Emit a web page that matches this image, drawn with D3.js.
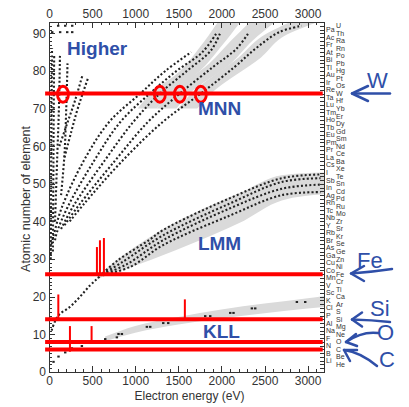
<!DOCTYPE html>
<html>
<head>
<meta charset="utf-8">
<script src="https://cdn.jsdelivr.net/npm/d3@7"></script>
<style>
  body { margin: 0; background: #fff; }
  .axis path, .axis line { stroke: #333; shape-rendering: crispEdges; }
  .axis text { fill: #333; font: 12px "Liberation Sans", Arial, sans-serif; }
  .minor text { display: none; }
</style>
</head>
<body>
<svg id="chart" width="409" height="407"></svg>
<script>
// ---- data (energy in eV, Z = atomic number) ----
var xTicks = [0, 500, 1000, 1500, 2000, 2500, 3000];
var yTicks = [0, 10, 20, 30, 40, 50, 60, 70, 80, 90];

var elements = ["H","He","Li","Be","B","C","N","O","F","Ne","Na","Mg","Al","Si","P","S","Cl","Ar","K","Ca",
  "Sc","Ti","V","Cr","Mn","Fe","Co","Ni","Cu","Zn","Ga","Ge","As","Se","Br","Kr","Rb","Sr","Y","Zr",
  "Nb","Mo","Tc","Ru","Rh","Pd","Ag","Cd","In","Sn","Sb","Te","I","Xe","Cs","Ba","La","Ce","Pr","Nd",
  "Pm","Sm","Eu","Gd","Tb","Dy","Ho","Er","Tm","Yb","Lu","Hf","Ta","W","Re","Os","Ir","Pt","Au","Hg",
  "Tl","Pb","Bi","Po","At","Rn","Fr","Ra","Ac","Th","Pa","U"];

// gray bands: [E, Zlow, Zhigh]
var kllBand = [[650,8.2,9.4],[1000,10.4,12.2],[1500,12.6,14.6],[2000,14.2,16.6],[2500,15.6,18.2],[3000,16.9,19.6],[3190,17.3,20.2]];
var lmmBand = [[560,24.6,25.6],[626,25.4,26.8],[785,26.6,29.7],[1171,29.7,35.9],[1752,35,43],[2200,39.5,47.4],[2700,45.6,52.3],[3190,47.2,53]];
// MNN bands: [Z, Elow, Ehigh]
var mnnBand1 = [[70,1030,1250],[74,1180,1400],[80,1520,1750],[86,1740,1980],[93,1960,2220]];
var mnnBand2 = [[70,1250,1480],[74,1400,1630],[82,1860,2110],[88,2110,2360],[93,2330,2620]];
var mnnBand3 = [[70,1500,1720],[74,1650,1880],[83.6,2200,2460],[90,2530,2790],[93,2800,3120]];

// dotted transition rows: [E, Z]
var kllDots = [[50,2.7],[108,4.1],[186,5.2],[263,6.3],[379,6.9],[495,7.9],[650,8.75],[785,9.2],[804,10.1],[843,10.1],
  [1133,12],[1172,12],[1323,13],[1381,13],[1810,14.85],[1868,14.85],[2100,15.7],[2138,15.7],
  [2351,16.9],[2390,16.9],[2873,18.6],[2970,18.6]];
var lmmLow = [[30,11],[104,14.9],[243,17.3],[360,20],[475,23],[556,24.7],[626,26.3]];
var lmm1 = [[626,26.3],[800,29.7],[1170,35.2],[1322,37.7],[2100,46.2],[2700,51.5],[3150,52.5]];
var lmm2 = [[626,26.1],[850,29.2],[1322,36.3],[2100,44.8],[2700,50.5],[3150,51.5]];
var lmm3 = [[626,25.9],[900,28.6],[1322,35],[2100,43.5],[2700,48.7],[3150,49.8]];
var lmm4 = [[626,25.7],[950,28],[1322,33.7],[2100,41.6],[2700,47],[3150,47.8]];
var mnnA = [[30,34],[50,36],[150,43.8],[400,56],[700,66.5],[1060,74],[1350,80],[1650,85]];
var mnnB = [[70,35],[90,37],[220,44],[520,56],[830,66.5],[1170,74],[1480,80],[1780,85],[1950,90.3]];
var mnnC = [[140,38],[280,44],[640,56],[980,66.5],[1286,74],[1600,80],[1880,85.5],[1990,90.3]];
var mnnD = [[180,39],[336,44],[760,56],[1150,66.5],[1518,74],[1900,81],[2180,86],[2320,90.3]];
var mnnE = [[240,40],[400,44.5],[846,56],[1322,66.5],[1761,74],[2150,81],[2400,86],[2670,90.3],[2930,92]];
var higher0 = [[45,32],[50,50],[55,70],[60,84]];
var higher1 = [[20,30],[25,50],[30,70],[35,86]];
var higher2 = [[70,40],[95,57],[115,70],[127,84]];
var higher3 = [[140,47],[180,58],[200,70],[215,82]];
var higher4 = [[180,57],[260,64],[340,70.5],[456,78.3]];
var higher5 = [[120,60],[210,66],[300,72],[390,79]];
var higherDots = [[35,90.3],[127,90.3],[209,90.3],[267,90.3],[104,92],[186,92],[267,92]];

// red highlights
var redLevels = [74, 26, 14, 8, 6];          // W, Fe, Si, O, C
var redSpan = [-45, 3175];
var barEnergy = [556, 591, 637, 108, 1576, 243, 494];
var barBase   = [26, 26, 26, 14, 14, 5.4, 7.8];
var barTop    = [33.2, 35, 35.6, 20.6, 19.3, 12.2, 12.2];
var circleEnergy = [162, 1286, 1518, 1761];
var circleZ = 73.8;

var seriesLabels = [["Higher", 210, 84.2], ["MNN", 1727, 68.3], ["LMM", 1727, 32.4], ["KLL", 1786, 9]];

// ---- chart ----
var svg = d3.select("#chart"),
    margin = {top: 22, right: 85, bottom: 35, left: 49},
    width = 409 - margin.left - margin.right,
    height = 407 - margin.top - margin.bottom;

var x = d3.scaleLinear().domain([0, 3190]).range([0, width]);
var y = d3.scaleLinear().domain([0, 93]).range([height, 0]);

var g = svg.append("g")
    .attr("transform", "translate(" + margin.left + "," + margin.top + ")");

g.append("clipPath").attr("id", "clip")
  .append("rect").attr("width", width).attr("height", height);

var plot = g.append("g").attr("clip-path", "url(#clip)");

var bandColor = "#dadada";
var areaE = d3.area().curve(d3.curveMonotoneX)
    .x(function (d) { return x(d[0]); })
    .y0(function (d) { return y(d[1]); })
    .y1(function (d) { return y(d[2]); });
var areaZ = d3.area().curve(d3.curveMonotoneY)
    .y(function (d) { return y(d[0]); })
    .x0(function (d) { return x(d[1]); })
    .x1(function (d) { return x(d[2]); });

[kllBand, lmmBand].forEach(function (b) {
  plot.append("path").attr("d", areaE(b)).attr("fill", bandColor);
});
[mnnBand1, mnnBand2, mnnBand3].forEach(function (b) {
  plot.append("path").attr("d", areaZ(b)).attr("fill", bandColor);
});

var line = d3.line().curve(d3.curveCatmullRom)
    .x(function (d) { return x(d[0]); })
    .y(function (d) { return y(d[1]); });

[lmmLow, lmm1, lmm2, lmm3, lmm4, mnnA, mnnB, mnnC, mnnD, mnnE,
 higher0, higher1, higher2, higher3, higher4, higher5].forEach(function (s) {
  plot.append("path").attr("d", line(s))
    .attr("fill", "none")
    .attr("stroke", "#222")
    .attr("stroke-width", 2.1)
    .attr("stroke-dasharray", "2,2.2");
});

plot.selectAll(".dot").data(kllDots.concat(higherDots)).enter().append("rect")
    .attr("x", function (d) { return x(d[0]) - 1; })
    .attr("y", function (d) { return y(d[1]) - 1; })
    .attr("width", 2.4).attr("height", 2)
    .attr("fill", "#222");

// ---- axes ----
var fmt = d3.format("d");
g.append("g").attr("class", "axis minor").attr("transform", "translate(0," + height + ")")
  .call(d3.axisBottom(x).tickValues(d3.range(0, 3101, 100)).tickSizeInner(-3).tickSizeOuter(0));
g.append("g").attr("class", "axis").attr("transform", "translate(0," + height + ")")
  .call(d3.axisBottom(x).tickValues(xTicks).tickSizeInner(-6).tickSizeOuter(0).tickPadding(4).tickFormat(fmt));
g.append("g").attr("class", "axis minor")
  .call(d3.axisTop(x).tickValues(d3.range(0, 3101, 100)).tickSizeInner(-3).tickSizeOuter(0));
g.append("g").attr("class", "axis")
  .call(d3.axisTop(x).tickValues(xTicks).tickSizeInner(-6).tickSizeOuter(0).tickPadding(4).tickFormat(fmt));
g.append("g").attr("class", "axis minor")
  .call(d3.axisLeft(y).tickValues(d3.range(0, 93, 1)).tickSizeInner(-3).tickSizeOuter(0));
g.append("g").attr("class", "axis")
  .call(d3.axisLeft(y).tickValues(yTicks).tickSizeInner(-6).tickSizeOuter(0).tickPadding(3));
g.append("g").attr("class", "axis minor").attr("transform", "translate(" + width + ",0)")
  .call(d3.axisRight(y).tickValues(d3.range(1, 93, 1)).tickSizeInner(-4).tickSizeOuter(0));

// element symbols on the right axis
g.append("g").selectAll("text").data(elements.slice(1)).enter().append("text")
    .attr("x", function (d, i) { return width + ((i + 2) % 2 === 0 ? 12 : 2); })
    .attr("y", function (d, i) { return y(i + 2); })
    .attr("dy", "0.35em")
    .style("font", "7px 'Liberation Sans', Arial, sans-serif")
    .attr("fill", "#333")
    .text(function (d) { return d; });

// axis titles
g.append("text")
    .attr("x", width / 2 + 3).attr("y", height + 28)
    .attr("text-anchor", "middle")
    .style("font", "12px 'Liberation Sans', Arial, sans-serif")
    .attr("fill", "#333")
    .text("Electron energy (eV)");
g.append("text")
    .attr("transform", "translate(-19," + (height / 2 + 2) + ") rotate(-90)")
    .attr("text-anchor", "middle")
    .style("font", "12.5px 'Liberation Sans', Arial, sans-serif")
    .attr("fill", "#333")
    .text("Atomic number of element");

// ---- red highlights ----
var red = "#ff0000";
g.selectAll(".level").data(redLevels).enter().append("line")
    .attr("x1", x(redSpan[0])).attr("x2", x(redSpan[1]))
    .attr("y1", function (d) { return y(d); }).attr("y2", function (d) { return y(d); })
    .attr("stroke", red).attr("stroke-width", 4);
g.selectAll(".bar").data(barEnergy).enter().append("line")
    .attr("x1", function (d) { return x(d); }).attr("x2", function (d) { return x(d); })
    .attr("y1", function (d, i) { return y(barBase[i]); })
    .attr("y2", function (d, i) { return y(barTop[i]); })
    .attr("stroke", red).attr("stroke-width", 2);
g.selectAll(".ring").data(circleEnergy).enter().append("ellipse")
    .attr("cx", function (d) { return x(d); }).attr("cy", y(circleZ))
    .attr("rx", 5.5).attr("ry", 8)
    .attr("fill", "none").attr("stroke", red).attr("stroke-width", 2.8);

// ---- blue annotations ----
var blue = "#2f4fa8";
g.selectAll(".series").data(seriesLabels).enter().append("text")
    .attr("x", function (d) { return x(d[1]); })
    .attr("y", function (d) { return y(d[2]); })
    .style("font", "bold 19px 'Liberation Sans', Arial, sans-serif")
    .attr("fill", blue)
    .text(function (d) { return d[0]; });

var ann = svg.append("g");
var marks = [
  {t: "W",  tx: 367, ty: 88,  shaft: "M352,93.5 L390,93.5", head: "M368,86 L352,93.5 L368,101"},
  {t: "Fe", tx: 357, ty: 268, shaft: "M351,273.5 Q372,272 392,269", head: "M364,266 L351,273.5 L364,281"},
  {t: "Si", tx: 370, ty: 316, shaft: "M352,319.5 Q372,320 390,322", head: "M362,312.5 L352,319.5 L362,326.5"},
  {t: "O",  tx: 377, ty: 340, shaft: "M346,342 Q362,331 378,333", head: "M356,334 L346,342 L357,346"},
  {t: "C",  tx: 379, ty: 367, shaft: "M344,350 Q360,352 377,366", head: "M357,350 L344,350 L350,361"}
];
marks.forEach(function (m) {
  ann.append("text").attr("x", m.tx).attr("y", m.ty)
    .style("font", "22px 'Liberation Sans', Arial, sans-serif")
    .attr("fill", blue).text(m.t);
  ann.append("path").attr("d", m.shaft).attr("fill", "none")
    .attr("stroke", blue).attr("stroke-width", 2.5).attr("stroke-linecap", "round");
  ann.append("path").attr("d", m.head).attr("fill", "none")
    .attr("stroke", blue).attr("stroke-width", 2.5)
    .attr("stroke-linecap", "round").attr("stroke-linejoin", "round");
});
</script>
</body>
</html>
